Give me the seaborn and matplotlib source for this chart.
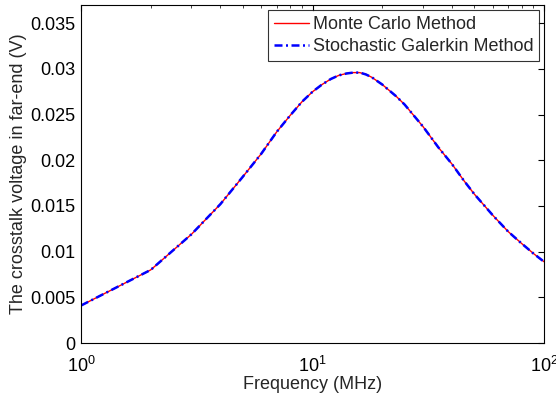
import matplotlib
matplotlib.use("Agg")
import matplotlib.pyplot as plt
import seaborn as sns
import pandas as pd
import numpy as np
from matplotlib.ticker import LogLocator, MultipleLocator, FixedLocator, FuncFormatter

# Data
freq_mhz = [1, 2, 3, 4, 5, 6, 7, 8, 9, 10, 11, 12, 13, 14, 15, 16, 17, 18, 20, 23, 25,
            30, 35, 40, 45, 50, 60, 70, 80, 90, 100]
monte_carlo = [0.0041, 0.0080, 0.0119, 0.0152, 0.0182, 0.0207, 0.0231, 0.0249,
               0.0264, 0.0275, 0.0283, 0.0289, 0.0293, 0.0295, 0.0296, 0.0296,
               0.0294, 0.0291, 0.0283, 0.0270, 0.0261, 0.0237, 0.0214, 0.0196,
               0.0178, 0.0163, 0.0140, 0.0122, 0.0109, 0.0098, 0.0089]
galerkin = list(monte_carlo)

series_names = ["Monte Carlo Method", "Stochastic Galerkin Method"]
y_ticks = [0, 0.005, 0.01, 0.015, 0.02, 0.025, 0.03, 0.035]
y_tick_labels = ["0", "0.005", "0.01", "0.015", "0.02", "0.025", "0.03", "0.035"]
x_label = "Frequency (MHz)"
y_label = "The crosstalk voltage in far-end (V)"

sns.set_style("white")
plt.rcParams["font.family"] = ["Liberation Sans", "DejaVu Sans"]
plt.rcParams["mathtext.fontset"] = "custom"
plt.rcParams["mathtext.rm"] = "Liberation Sans"
plt.rcParams["mathtext.it"] = "Liberation Sans"

df_mc = pd.DataFrame({"f": freq_mhz, "v": monte_carlo})
df_sg = pd.DataFrame({"f": freq_mhz, "v": galerkin})

fig = plt.figure(figsize=(5.56, 3.93), dpi=100)
ax = fig.add_axes([81 / 556, 50 / 393, (544 - 81) / 556, (343 - 5) / 393])

sns.lineplot(data=df_mc, x="f", y="v", ax=ax, color="#ff0000", linewidth=1.0,
             label=series_names[0])
sns.lineplot(data=df_sg, x="f", y="v", ax=ax, color="#0000ff", linewidth=1.8,
             linestyle=(0, (3.2, 1.4, 0.8, 1.4)), label=series_names[1])

ax.set_xscale("log")
ax.set_xlim(1, 100)
ax.set_ylim(0, 0.037)
ax.yaxis.set_major_locator(FixedLocator(y_ticks))
ax.set_yticklabels(y_tick_labels)
ax.xaxis.set_major_locator(LogLocator(base=10))
ax.xaxis.set_minor_locator(LogLocator(base=10, subs=np.arange(2, 10)))
ax.xaxis.set_minor_formatter(FuncFormatter(lambda v, p: ""))

ax.tick_params(axis="both", which="major", direction="in", length=4.5, width=0.8,
               top=True, right=True, labelsize=13, colors="#000000", pad=4)
ax.tick_params(axis="both", which="minor", direction="in", length=2.5, width=0.6,
               top=True, right=True)
ax.tick_params(axis="x", which="major", pad=9)
for s in ax.spines.values():
    s.set_color("#000000")
    s.set_linewidth(0.8)

ax.set_xlabel(x_label, fontsize=13, labelpad=0)
ax.set_ylabel(y_label, fontsize=13, labelpad=2)

leg = ax.legend(loc="upper right", fontsize=13, frameon=True, fancybox=False,
                borderpad=0.3, labelspacing=0.3, handlelength=1.95,
                handletextpad=0.2, borderaxespad=0.3)
leg.get_frame().set_edgecolor("#000000")
leg.get_frame().set_linewidth(0.8)

fig.savefig("out.png", dpi=100)
